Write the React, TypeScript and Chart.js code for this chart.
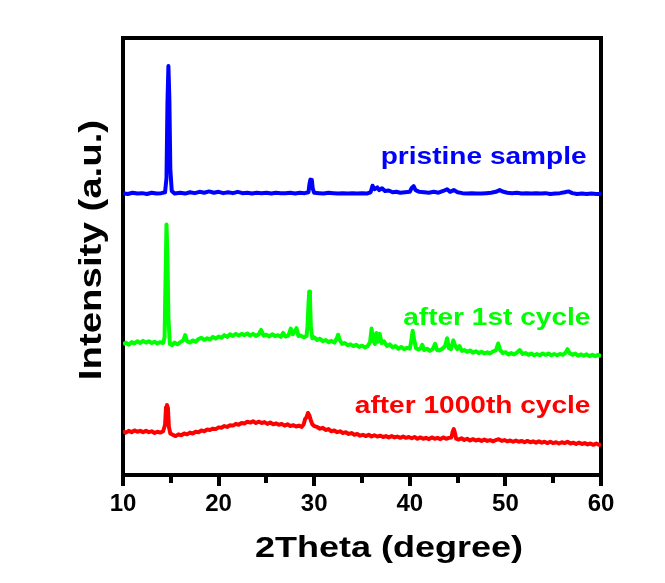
import { useEffect, useRef } from "react";
import { Chart, registerables } from "chart.js";

Chart.register(...registerables);

// ---- Data (2θ in degrees, intensity in arbitrary offset units) ----
const pristineX = [
  10.0, 10.5, 11.0, 11.5, 12.0, 12.5, 13.0, 13.5, 14.0, 14.4, 14.55, 14.65, 14.75, 14.85, 14.95, 15.1, 15.4,
  16.0, 16.5, 17.0, 17.5, 18.0, 18.5, 19.0, 19.5, 20.0, 20.5, 21.0, 21.5, 22.0, 22.5, 23.0, 23.5, 24.0, 24.5,
  25.0, 25.5, 26.0, 26.5, 27.0, 27.5, 28.0, 28.5, 29.0, 29.4, 29.5, 29.6, 29.75, 29.85, 30.0, 30.5, 31.0, 31.5,
  32.0, 32.5, 33.0, 33.5, 34.0, 34.5, 35.0, 35.5, 35.9, 36.1, 36.3, 36.6, 36.8, 37.1, 37.4, 37.8, 38.2, 38.6,
  39.0, 39.5, 40.0, 40.2, 40.4, 40.6, 41.0, 41.5, 42.0, 42.5, 43.0, 43.5, 43.9, 44.2, 44.6, 45.0, 45.5, 46.0,
  46.5, 47.0, 47.5, 48.0, 48.5, 49.0, 49.4, 49.8, 50.2, 50.7, 51.2, 51.7, 52.2, 52.7, 53.2, 53.7, 54.2, 54.7,
  55.2, 55.7, 56.2, 56.6, 57.0, 57.5, 58.0, 58.5, 59.0, 59.5, 60.0,
];
const pristineY = [
  64.5, 64.3, 64.6, 64.4, 64.5, 64.3, 64.6, 64.4, 64.5, 64.7, 68, 85, 93.6, 86, 70, 65.0, 64.4,
  64.6, 64.4, 64.7, 64.5, 64.8, 64.6, 64.9, 64.6, 64.8, 64.5, 64.7, 64.5, 64.8, 64.5, 64.6, 64.4, 64.6, 64.5,
  64.6, 64.4, 64.6, 64.5, 64.5, 64.6, 64.4, 64.6, 64.5, 64.7, 66.5, 67.6, 67.5, 65.5, 64.6, 64.5, 64.4, 64.6,
  64.5, 64.4, 64.5, 64.4, 64.5, 64.4, 64.5, 64.4, 64.7, 66.2, 65.4, 65.8, 65.2, 65.6, 65.0, 65.1, 64.7, 64.8,
  64.6, 64.7, 64.8, 65.7, 66.1, 65.2, 64.8, 64.7, 64.6, 64.8, 64.6, 65.0, 65.4, 64.8, 65.2, 64.7, 64.5, 64.4,
  64.5, 64.4, 64.4, 64.5, 64.6, 64.8, 65.2, 64.8, 64.6, 64.5, 64.6, 64.4, 64.5, 64.4, 64.5, 64.4, 64.5, 64.3,
  64.4, 64.5, 64.7, 64.9, 64.5, 64.3, 64.4, 64.3, 64.4, 64.3, 64.3,
];

const firstX = [
  10.0, 10.3, 10.6, 10.9, 11.2, 11.5, 11.8, 12.1, 12.4, 12.7, 13.0, 13.3, 13.6, 13.9, 14.2, 14.35, 14.45, 14.55,
  14.65, 14.75, 14.9, 15.1, 15.4, 15.7, 16.0, 16.3, 16.5, 16.7, 17.0, 17.3, 17.6, 17.9, 18.2, 18.5, 18.8, 19.1,
  19.4, 19.7, 20.0, 20.3, 20.6, 20.9, 21.2, 21.5, 21.8, 22.1, 22.4, 22.7, 23.0, 23.3, 23.6, 23.9, 24.2, 24.45,
  24.7, 25.0, 25.3, 25.6, 25.9, 26.2, 26.5, 26.75, 27.0, 27.3, 27.55, 27.75, 27.95, 28.15, 28.35, 28.6, 28.9,
  29.2, 29.3, 29.4, 29.48, 29.56, 29.65, 29.8, 30.0, 30.3, 30.6, 30.9, 31.2, 31.5, 31.8, 32.1, 32.35, 32.5,
  32.65, 32.9, 33.2, 33.5, 33.8, 34.1, 34.4, 34.7, 35.0, 35.3, 35.6, 35.85, 36.0, 36.15, 36.35, 36.5, 36.65,
  36.85, 37.05, 37.3, 37.6, 37.9, 38.2, 38.5, 38.8, 39.1, 39.4, 39.7, 40.0, 40.15, 40.3, 40.45, 40.65, 40.9,
  41.15, 41.3, 41.5, 41.8, 42.1, 42.4, 42.65, 42.85, 43.1, 43.4, 43.7, 43.9, 44.1, 44.3, 44.55, 44.75, 44.95,
  45.2, 45.45, 45.7, 46.0, 46.3, 46.6, 46.9, 47.2, 47.5, 47.8, 48.1, 48.4, 48.7, 49.0, 49.25, 49.45, 49.7,
  50.0, 50.3, 50.6, 50.9, 51.2, 51.5, 51.8, 52.1, 52.4, 52.7, 53.0, 53.3, 53.6, 53.9, 54.2, 54.5, 54.8, 55.1,
  55.4, 55.7, 56.0, 56.3, 56.5, 56.7, 57.0, 57.3, 57.6, 57.9, 58.2, 58.5, 58.8, 59.1, 59.4, 59.7, 60.0,
];
const firstY = [
  29.9, 30.3, 29.8, 30.4, 30.1, 30.6, 30.2, 30.7, 30.3, 30.6, 30.2, 30.5, 30.1, 30.4, 30.2, 31.5, 45, 57.3,
  50, 36, 30.0, 29.7, 30.3, 29.9, 30.4, 30.8, 32.0, 30.6, 30.3, 30.8, 30.5, 31.1, 31.4, 30.9, 31.3, 31.0,
  31.6, 31.2, 31.7, 31.4, 32.0, 31.6, 32.2, 31.8, 32.3, 31.9, 32.3, 32.0, 32.4, 31.9, 32.3, 31.8, 32.2, 33.2,
  31.9, 32.1, 31.7, 32.2, 31.8, 32.0, 31.6, 32.5, 31.7, 31.9, 33.5, 32.2, 32.8, 33.6, 31.8, 31.9, 31.5,
  31.8, 34, 39, 42, 40, 34, 31.3, 31.5, 30.9, 31.2, 30.6, 30.9, 30.4, 30.7, 30.3, 31.2, 32.1,
  31.0, 30.0, 30.2, 29.7, 29.9, 29.5, 29.8, 29.3, 29.6, 29.2, 29.5, 30.5, 33.5, 31.0, 30.0, 32.5, 30.5,
  32.3, 30.2, 30.6, 29.5, 29.9, 29.2, 29.5, 28.9, 29.3, 28.8, 29.1, 28.9, 30.5, 33.0, 31.0, 29.0, 28.7,
  29.0, 29.8, 28.6, 28.9, 28.4, 28.8, 30.0, 28.6, 28.5, 28.9, 29.5, 31.3, 29.0, 28.8, 30.8, 29.6, 28.8,
  29.5, 28.4, 28.6, 28.2, 28.5, 28.0, 28.3, 27.9, 28.2, 27.8, 28.1, 27.8, 28.3, 28.5, 30.1, 28.6, 27.9,
  28.1, 27.6, 27.9, 27.6, 28.0, 28.6, 27.7, 27.9, 27.5, 27.8, 27.4, 27.7, 27.4, 27.8, 27.5, 27.8, 27.4, 27.7,
  27.4, 27.7, 27.5, 28.0, 28.8, 27.9, 27.5, 27.8, 27.3, 27.6, 27.3, 27.6, 27.2, 27.5, 27.2, 27.5, 27.2,
];

const cycle1000X = [
  10.0, 10.3, 10.6, 10.9, 11.2, 11.5, 11.8, 12.1, 12.4, 12.7, 13.0, 13.3, 13.6, 13.9, 14.2, 14.4, 14.5, 14.6,
  14.7, 14.8, 14.95, 15.2, 15.5, 15.8, 16.1, 16.4, 16.7, 17.0, 17.3, 17.6, 17.9, 18.2, 18.5, 18.8, 19.1, 19.4,
  19.7, 20.0, 20.3, 20.6, 20.9, 21.2, 21.5, 21.8, 22.1, 22.4, 22.7, 23.0, 23.3, 23.6, 23.9, 24.2, 24.5, 24.8,
  25.1, 25.4, 25.7, 26.0, 26.3, 26.6, 26.9, 27.2, 27.5, 27.8, 28.1, 28.4, 28.7, 28.9, 29.05, 29.2, 29.35, 29.5,
  29.65, 29.8, 30.0, 30.3, 30.6, 30.9, 31.2, 31.5, 31.8, 32.1, 32.4, 32.7, 33.0, 33.3, 33.6, 33.9, 34.2, 34.5,
  34.8, 35.1, 35.4, 35.7, 36.0, 36.3, 36.6, 36.9, 37.2, 37.5, 37.8, 38.1, 38.4, 38.7, 39.0, 39.3, 39.6, 39.9,
  40.2, 40.5, 40.8, 41.1, 41.4, 41.7, 42.0, 42.3, 42.6, 42.9, 43.2, 43.5, 43.8, 44.1, 44.35, 44.5, 44.6, 44.7,
  44.85, 45.1, 45.4, 45.7, 46.0, 46.3, 46.6, 46.9, 47.2, 47.5, 47.8, 48.1, 48.4, 48.7, 49.0, 49.3, 49.6, 49.9,
  50.2, 50.5, 50.8, 51.1, 51.4, 51.7, 52.0, 52.3, 52.6, 52.9, 53.2, 53.5, 53.8, 54.1, 54.4, 54.7, 55.0, 55.3,
  55.6, 55.9, 56.2, 56.5, 56.8, 57.1, 57.4, 57.7, 58.0, 58.3, 58.6, 58.9, 59.2, 59.5, 59.8, 60.0,
];
const cycle1000Y = [
  10.0, 9.7, 10.1, 9.8, 10.2, 9.9, 10.1, 9.8, 10.1, 9.8, 10.0, 9.6, 9.9, 9.7, 10.0, 11.5, 15.5, 16.0,
  15.3, 11.0, 9.5, 9.2, 8.9, 9.3, 9.1, 9.5, 9.3, 9.7, 9.5, 9.9, 9.8, 10.2, 10.0, 10.4, 10.3, 10.6,
  10.5, 10.9, 10.8, 11.2, 11.0, 11.4, 11.3, 11.7, 11.5, 11.9, 11.8, 12.2, 12.0, 12.3, 11.9, 12.2, 11.9, 12.1,
  11.7, 12.0, 11.6, 11.8, 11.5, 11.7, 11.3, 11.6, 11.2, 11.4, 11.1, 11.3, 11.0, 11.6, 12.8, 13.2, 14.2, 13.6,
  12.5, 11.6, 11.2, 11.0, 10.6, 10.8, 10.3, 10.5, 10.0, 10.2, 9.8, 10.0, 9.6, 9.8, 9.4, 9.6, 9.2, 9.4,
  9.0, 9.2, 8.9, 9.2, 8.8, 9.1, 8.8, 9.0, 8.7, 8.9, 8.6, 8.9, 8.6, 8.8, 8.5, 8.8, 8.5, 8.7,
  8.4, 8.7, 8.3, 8.6, 8.3, 8.5, 8.2, 8.6, 8.3, 8.5, 8.2, 8.6, 8.3, 8.5, 8.6, 10.0, 10.5, 9.8,
  8.3, 8.1, 8.4, 8.0, 8.3, 7.9, 8.2, 7.9, 8.1, 7.8, 8.1, 7.8, 8.0, 7.7, 8.0, 8.2, 7.8, 8.0,
  7.7, 7.9, 7.6, 7.9, 7.6, 7.8, 7.5, 7.8, 7.5, 7.7, 7.4, 7.7, 7.4, 7.6, 7.3, 7.6, 7.3, 7.5,
  7.2, 7.5, 7.3, 7.6, 7.2, 7.4, 7.1, 7.4, 7.1, 7.3, 7.0, 7.2, 6.9, 7.2, 6.9, 7.0,
];

const seriesNames = ["pristine sample", "after 1st cycle", "after 1000th cycle"];
const seriesColors = ["#0000ff", "#00ff00", "#ff0000"];
const xTitle = "2Theta (degree)";
const yTitle = "Intensity (a.u.)";
const xMin = 10;
const xMax = 60;

const FONT = "'Liberation Sans', Arial, Helvetica, sans-serif";

function toPoints(xs: number[], ys: number[]) {
  return xs.map((x, i) => ({ x, y: ys[i] }));
}

// label anchor (right edge, baseline) in data units
const labelAnchors = [
  { x: 58.5, y: 71.2 },
  { x: 58.9, y: 34.4 },
  { x: 58.9, y: 14.2 },
];

const textPlugin = {
  id: "xrdText",
  afterDraw(chart: any) {
    const { ctx, chartArea, scales } = chart;
    const sx = scales.x;
    const sy = scales.y;
    ctx.save();
    // series labels
    ctx.font = `bold 24px ${FONT}`;
    ctx.textAlign = "right";
    ctx.textBaseline = "alphabetic";
    seriesNames.forEach((name, i) => {
      const px = sx.getPixelForValue(labelAnchors[i].x);
      const py = sy.getPixelForValue(labelAnchors[i].y);
      ctx.save();
      ctx.translate(px, py);
      ctx.scale(1.17, 1);
      ctx.fillStyle = seriesColors[i];
      ctx.fillText(name, 0, 0);
      ctx.restore();
    });
    // x axis title
    ctx.fillStyle = "#000";
    ctx.font = `bold 30px ${FONT}`;
    ctx.textAlign = "center";
    ctx.save();
    ctx.translate((chartArea.left + chartArea.right) / 2 + 27, chartArea.bottom + 82);
    ctx.scale(1.2, 1);
    ctx.fillText(xTitle, 0, 0);
    ctx.restore();
    // y axis title
    ctx.font = `bold 32px ${FONT}`;
    ctx.save();
    ctx.translate(chartArea.left - 22, (chartArea.top + chartArea.bottom) / 2 - 6.5);
    ctx.rotate(-Math.PI / 2);
    ctx.scale(1.2, 1);
    ctx.fillText(yTitle, 0, 0);
    ctx.restore();
    ctx.restore();
  },
};

export default function App() {
  const canvasRef = useRef<HTMLCanvasElement | null>(null);

  useEffect(() => {
    const canvas = canvasRef.current;
    if (!canvas) return;
    const seriesData = [
      toPoints(pristineX, pristineY),
      toPoints(firstX, firstY),
      toPoints(cycle1000X, cycle1000Y),
    ];
    const frameAxis = (position: string, fitW: boolean) => ({
      type: "linear",
      position,
      min: position === "top" ? xMin : 0,
      max: position === "top" ? xMax : 100,
      ticks: { display: false },
      grid: { drawOnChartArea: false, drawTicks: false, lineWidth: 4, color: "#000" },
      border: { display: true, color: "#000", width: 4 },
      afterFit: (s: any) => {
        if (fitW) s.width = 0;
        else s.height = 0;
      },
    });
    const chart = new Chart(canvas, {
      type: "line",
      data: {
        datasets: seriesData.map((d, i) => ({
          label: seriesNames[i],
          data: d,
          borderColor: seriesColors[i],
          backgroundColor: seriesColors[i],
          borderWidth: 4,
          borderJoinStyle: "round",
          pointRadius: 0,
          fill: false,
          tension: 0,
          xAxisID: "x",
          yAxisID: "y",
        })),
      },
      options: {
        animation: false,
        responsive: false,
        devicePixelRatio: 1,
        layout: { padding: { top: 30, right: 56, left: 0, bottom: 0 } },
        plugins: {
          legend: { display: false },
          tooltip: { enabled: false },
        },
        scales: {
          x: {
            type: "linear",
            position: "bottom",
            weight: 1,
            min: xMin,
            max: xMax,
            ticks: {
              stepSize: 10,
              color: "#000",
              font: { family: FONT, weight: "bold", size: 24 },
              padding: 4,
              maxRotation: 0,
              autoSkip: false,
            },
            grid: {
              drawOnChartArea: false,
              drawTicks: true,
              tickLength: 11,
              tickWidth: 4,
              tickColor: "#000",
              lineWidth: 4,
              color: "#000",
            },
            border: { display: true, color: "#000", width: 4 },
            afterFit: (s: any) => {
              s.height = 100;
            },
          },
          xMinor: {
            type: "linear",
            position: "bottom",
            weight: 0,
            min: xMin,
            max: xMax,
            ticks: { display: false, stepSize: 5 },
            grid: {
              drawOnChartArea: false,
              drawTicks: true,
              tickLength: 8,
              tickWidth: 4,
              tickColor: "#000",
              lineWidth: 4,
              color: "#000",
            },
            border: { display: false },
            afterFit: (s: any) => {
              s.height = 0;
            },
          },
          xTop: frameAxis("top", false),
          y: {
            type: "linear",
            position: "left",
            min: 0,
            max: 100,
            ticks: { display: false },
            grid: { drawOnChartArea: false, drawTicks: false, lineWidth: 4, color: "#000" },
            border: { display: true, color: "#000", width: 4 },
            afterFit: (s: any) => {
              s.width = 115;
            },
          },
          yRight: frameAxis("right", true),
        },
      } as any,
      plugins: [textPlugin],
    });
    return () => chart.destroy();
  }, []);

  return (
    <div style={{ width: 649, height: 567 }}>
      <canvas ref={canvasRef} width={649} height={567} style={{ display: "block" }} />
    </div>
  );
}
